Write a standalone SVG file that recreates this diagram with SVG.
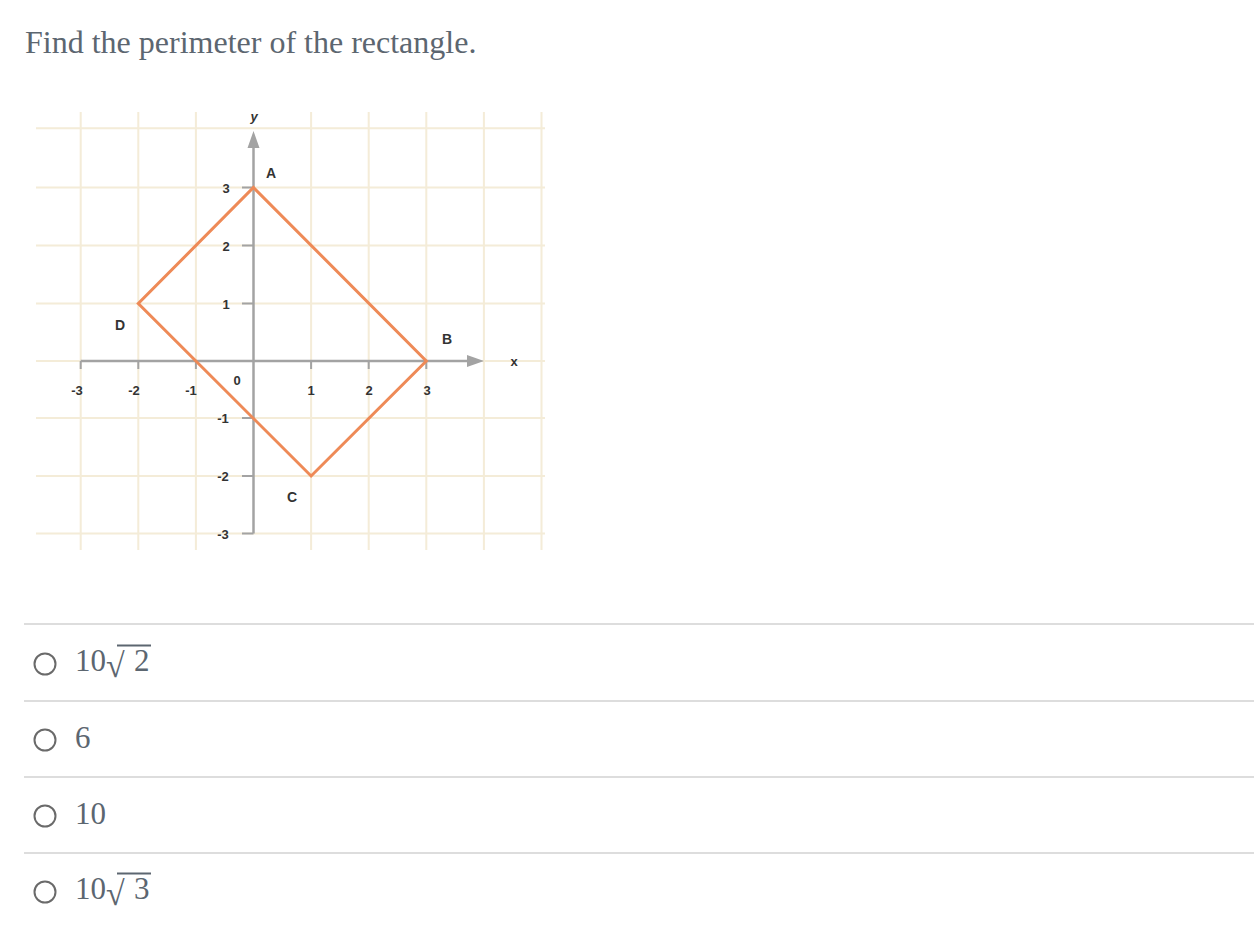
<svg xmlns="http://www.w3.org/2000/svg" width="1254" height="930" viewBox="0 0 1254 930">
<style>
.grid{stroke:#f4ecd8;stroke-width:2;fill:none}
.axis{stroke:#a3a3a3;stroke-width:2.5;fill:none}
.tick{stroke:#a3a3a3;stroke-width:2}
.lbl{font-family:"Liberation Sans",Arial,sans-serif;font-weight:bold;font-size:13px;fill:#333;text-anchor:middle}
.pt{font-family:"Liberation Sans",Arial,sans-serif;font-weight:bold;font-size:14px;fill:#333;text-anchor:middle}
.q{font-family:"Liberation Serif","Times New Roman",serif;font-size:32px;fill:#5c6670}
.opt{font-family:"Liberation Serif","Times New Roman",serif;font-size:31px;fill:#5c6670}
.rad{font-family:"Liberation Serif","Times New Roman",serif;font-size:34px;fill:#5c6670}
.vin{stroke:#5c6670;stroke-width:1.8}
.sep{stroke:#dddddd;stroke-width:2}
.radio{fill:#fff;stroke:#6a6a6a;stroke-width:2}
</style>
<rect width="1254" height="930" fill="#ffffff"/>
<text class="q" x="25" y="53">Find the perimeter of the rectangle.</text>
<g id="grid">
<path class="grid" d="M80.7 112V550M138.3 112V550M195.9 112V550M311.1 112V550M368.7 112V550M426.3 112V550M483.9 112V550M541.5 112V550"/>
<path class="grid" d="M36 128.2H545M36 187.5H545M36 245.5H545M36 303.5H545M36 418H545M36 476H545M36 533.5H545M36 361H545"/>
</g>
<g id="axes">
<path class="axis" d="M253.5 533.5V146"/>
<polygon points="253.5,131 247.5,148 259.5,148" fill="#a3a3a3"/>
<path class="axis" d="M80.7 361H470"/>
<polygon points="484,361 467,355 467,367" fill="#a3a3a3"/>
<path class="tick" d="M242 187.5H253.5M242 245.5H253.5M242 303.5H253.5M242 418H253.5M242 476H253.5M242 533.5H253.5"/>
<path class="tick" d="M80.7 361V369M138.3 361V369M195.9 361V369M311.1 361V369M368.7 361V369M426.3 361V369"/>
<text class="lbl" x="254" y="121" font-style="italic" font-size="11">y</text>
<text class="lbl" x="514" y="366">x</text>
<text class="lbl" x="226" y="193">3</text>
<text class="lbl" x="226" y="251">2</text>
<text class="lbl" x="226" y="309">1</text>
<text class="lbl" x="223" y="423">-1</text>
<text class="lbl" x="223" y="481">-2</text>
<text class="lbl" x="223" y="539">-3</text>
<text class="lbl" x="77" y="395">-3</text>
<text class="lbl" x="134" y="395">-2</text>
<text class="lbl" x="191" y="395">-1</text>
<text class="lbl" x="237" y="385">0</text>
<text class="lbl" x="311" y="395">1</text>
<text class="lbl" x="369" y="395">2</text>
<text class="lbl" x="427" y="395">3</text>
</g>
<g id="rectangle">
<polygon points="253.5,187.5 426.3,361 311.1,476 138.3,303.5" fill="none" stroke="#ee8a57" stroke-width="3" stroke-linejoin="miter"/>
</g>
<g id="labels">
<text class="pt" x="271" y="178">A</text>
<text class="pt" x="447" y="344">B</text>
<text class="pt" x="292" y="502">C</text>
<text class="pt" x="120" y="330">D</text>
</g>
<g id="options">
<line class="sep" x1="24" y1="624" x2="1254" y2="624"/>
<line class="sep" x1="24" y1="701" x2="1254" y2="701"/>
<line class="sep" x1="24" y1="777" x2="1254" y2="777"/>
<line class="sep" x1="24" y1="853" x2="1254" y2="853"/>
<circle class="radio" cx="45" cy="664" r="10.5"/>
<circle class="radio" cx="45" cy="740" r="10.5"/>
<circle class="radio" cx="45" cy="816" r="10.5"/>
<circle class="radio" cx="45" cy="892" r="10.5"/>
<text class="opt" x="75" y="671">10</text>
<text class="rad" x="106" y="677">√</text>
<line class="vin" x1="117" y1="645.5" x2="151" y2="645.5"/>
<text class="opt" x="134" y="671">2</text>
<text class="opt" x="75" y="748">6</text>
<text class="opt" x="75" y="824">10</text>
<text class="opt" x="75" y="899">10</text>
<text class="rad" x="106" y="905">√</text>
<line class="vin" x1="117" y1="873.5" x2="151" y2="873.5"/>
<text class="opt" x="134" y="899">3</text>
</g>
</svg>
